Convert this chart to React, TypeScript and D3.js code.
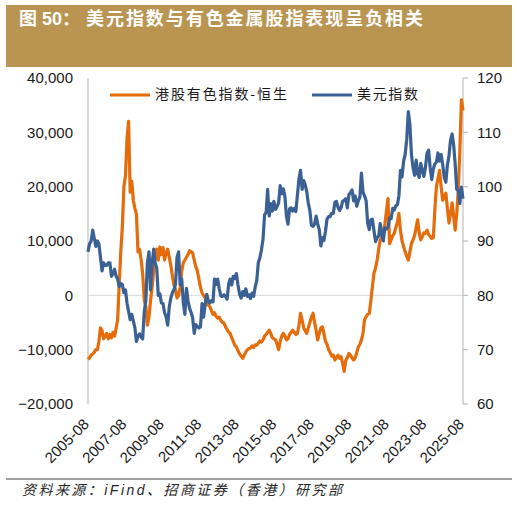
import React from "react";
import * as d3 from "d3";

// 港股有色指数-恒生 (left axis), monthly from 2005-08
const hsMetals = [
  -11800, -11500, -11000, -10800, -10500, -10000, -10000, -8500, -6000, -6500, -8000, -7500,
  -7000, -8000, -7200, -7800, -6800, -7500, -6000, -4500, 2000, 8000, 12600, 20000,
  22000, 29000, 32000, 19000, 21000, 17500, 16000, 15000, 8000, 8500, 6500, 4000,
  -900, -2000, -5500, -4000, -1000, 1600, 4500, 7800, 8500, 6500, 8900, 7500,
  8800, 6500, 7800, 8500, 7000, 5500, 3500, 2000, 1000, -500, 0, 1500,
  4500, 6000, 6500, 7000, 7500, 8200, 8000, 7800, 6500, 5300, 4500, 3000,
  1500, 400, 0, -500, -1500, -1800, -2100, -2800, -3500, -3200, -3900, -4200,
  -4000, -4600, -5000, -5100, -5800, -6300, -6800, -7000, -7800, -8500, -9200, -9500,
  -10200, -10800, -11200, -11600, -11000, -10400, -10000, -9800, -9700, -9300, -9600, -9100,
  -9200, -8800, -8400, -8600, -8200, -7500, -7200, -6800, -6400, -7000, -7800, -8000,
  -8200, -9000, -10000, -8500, -7500, -7000, -7500, -8200, -8000, -7200, -6800, -6400,
  -6800, -7200, -7000, -5500, -3300, -4500, -6000, -6500, -7000, -6000, -5000, -4000,
  -3300, -5000, -6500, -8200, -7000, -6000, -5800, -7000, -8500, -9000, -10000, -10500,
  -11200, -11000, -11900, -11500, -11000, -11600, -11300, -12500, -14000, -12000, -11500, -10700,
  -11000, -11500, -11900, -11500, -10500, -9500, -9000, -8200, -7000, -4500, -3900, -3500,
  -3300, -1000, 1600, 4100, 5000, 6500, 8500, 10200, 10500, 12000, 13000, 15500,
  17800, 9500, 10200, 11000, 11400, 12500, 13500, 15100, 12000, 10000, 9000, 8000,
  7200, 6500, 8000, 9500, 10200, 11000, 12500, 13900, 11500, 10200, 10800, 11500,
  11400, 12000, 11200, 10800, 10500, 10600, 16000, 20000, 21500, 23000, 20000, 17500,
  18000, 18800, 16000, 13300, 15000, 17000, 14500, 12000, 15000, 19400, 26800, 36000,
  34000,
];

// 美元指数 (right axis), monthly from 2005-08
const usdIndex = [
  88, 89.5, 90, 92, 90.5, 89, 90, 89.5, 87, 84.5, 86, 85.5,
  85.5, 86, 86, 83.5, 84, 84.8, 83.5, 83, 81.6, 82.2, 82, 80.5,
  81, 78.5, 77, 75.5, 76.5, 75.3, 74, 71.5, 72.5, 72.9, 72.3, 72,
  77, 79, 86, 88, 81, 86, 88.5, 86, 85, 80, 80.3, 78.6,
  78.5, 76.8, 76, 74.5, 77.9, 79.5, 80.5, 81, 82, 87, 88, 82,
  83, 78.6, 76.5, 81.3, 79, 77.6, 76.8, 75.9, 73, 74.6, 74.3, 74,
  74.2, 78.5, 76, 78.3, 80.2, 79, 78.6, 79, 78.8, 83, 82, 83,
  81.2, 79.9, 79.8, 80.1, 79.8, 79.3, 82.2, 83, 81.9, 83.5, 83.1, 84,
  81.9, 80.2, 79.5, 80.7, 80, 81.2, 79.8, 80.1, 79.4, 80.4, 79.8, 81.5,
  82.7, 86, 86.9, 88.4, 90.3, 94.8, 95.3, 99.5, 94.6, 96.9, 95.5, 97.3,
  95.8, 96.3, 97, 100.2, 98.7, 99.6, 98.2, 94.6, 93.1, 95.9, 96.1, 95.5,
  96, 95.4, 98.4, 101.5, 103, 99.5, 101.1, 100.4, 99.1, 97, 95.6, 92.9,
  92.7, 93.1, 94.6, 93.1, 92.1, 89.1, 90.6, 90.1, 91.8, 94, 94.5, 94.5,
  95.1, 95.1, 97.1, 97.3, 96.2, 95.6, 96.2, 97.3, 97.5, 97.8, 96.1, 98.5,
  98.9, 99.4, 97.4, 98.3, 96.4, 97.4, 98.1, 102.5, 99, 98.3, 97.4, 93.3,
  92.1, 93.9, 94, 91.9, 89.9, 90.6, 90.9, 93.2, 91.3, 90, 92.4, 92.2,
  92.6, 94.2, 94.1, 96, 95.7, 96.5, 96.7, 98.3, 103, 101.8, 104.7, 105.9,
  108.7, 113.8, 111.5, 105.9, 103.5, 102.1, 104.9, 102.5, 101.7, 104.3, 102.9, 101.9,
  103.6, 106.2, 106.7, 103.5, 101.3, 103.3, 104.2, 104.5, 106.2, 104.7, 105.9, 104.1,
  101.7, 100.8, 104, 105.7, 108.5, 109.7, 107.6, 104.2, 99.5, 99.3, 96.9, 99.9,
  97.8,
];

const xTickLabels = [
  "2005-08", "2007-08", "2009-08", "2011-08", "2013-08", "2015-08",
  "2017-08", "2019-08", "2021-08", "2023-08", "2025-08",
];
const leftTicks = [-20000, -10000, 0, 10000, 20000, 30000, 40000];
const rightTicks = [60, 70, 80, 90, 100, 110, 120];
const seriesNames = ["港股有色指数-恒生", "美元指数"];

const ORANGE = "#E46C0A";
const BLUE = "#3A6094";
const START = new Date(2005, 7, 1);
const parseMonth = d3.timeParse("%Y-%m");

export default function App() {
  const W = 517;
  const H = 505;
  const plot = { left: 88, right: 463, top: 78, bottom: 404 };

  const x = d3
    .scaleTime()
    .domain([START, new Date(2025, 7, 1)])
    .range([plot.left, plot.right]);
  const yL = d3.scaleLinear().domain([-20000, 40000]).range([plot.bottom, plot.top]);
  const yR = d3.scaleLinear().domain([60, 120]).range([plot.bottom, plot.top]);

  const dateAt = (i: number) => d3.timeMonth.offset(START, i);
  const lineL = d3
    .line<number>()
    .x((_, i) => x(dateAt(i)))
    .y((d) => yL(d));
  const lineR = d3
    .line<number>()
    .x((_, i) => x(dateAt(i)))
    .y((d) => yR(d));

  const fmt = d3.format(",");
  const latin = "'Liberation Sans', Arial, sans-serif";
  const cjk = "'Noto Sans CJK SC', sans-serif";

  return (
    <svg
      width={W}
      height={H}
      style={{ position: "absolute", left: 0, top: 0, display: "block", background: "#fff" }}
    >
      {/* title band */}
      <rect x={6} y={5} width={506} height={62} fill="#BA9552" />
      <text x={19} y={25} fill="#fff" fontSize={18} fontWeight="bold" fontFamily={`'Liberation Sans', ${cjk}`}>
        <tspan fontFamily={cjk}>图</tspan>
        <tspan> 50</tspan>
        <tspan fontFamily={cjk}>：</tspan>
      </text>
      <text
        x={86}
        y={25}
        fill="#fff"
        fontSize={18}
        fontWeight="bold"
        fontFamily={cjk}
        textLength={337}
        lengthAdjust="spacing"
      >
        美元指数与有色金属股指表现呈负相关
      </text>

      {/* zero gridline */}
      <line x1={plot.left} x2={plot.right} y1={yL(0)} y2={yL(0)} stroke="#D9D9D9" strokeWidth={1} />

      {/* left axis */}
      <line x1={plot.left} x2={plot.left} y1={plot.top} y2={plot.bottom} stroke="#BFBFBF" strokeWidth={1.2} />
      {leftTicks.map((t) => (
        <text
          key={t}
          x={73}
          y={yL(t)}
          dy="0.36em"
          textAnchor="end"
          fontSize={15}
          fontFamily={latin}
          fill="#1a1a1a"
        >
          {fmt(t)}
        </text>
      ))}

      {/* right axis */}
      <line x1={plot.right} x2={plot.right} y1={plot.top} y2={plot.bottom} stroke="#BFBFBF" strokeWidth={1.2} />
      {rightTicks.map((t) => (
        <g key={t}>
          <line x1={plot.right} x2={plot.right + 5} y1={yR(t)} y2={yR(t)} stroke="#BFBFBF" strokeWidth={1.2} />
          <text x={477} y={yR(t)} dy="0.36em" fontSize={15} fontFamily={latin} fill="#1a1a1a">
            {t}
          </text>
        </g>
      ))}

      {/* x labels */}
      {xTickLabels.map((s) => {
        const px = x(parseMonth(s) as Date);
        return (
          <text
            key={s}
            transform={`translate(${px + 2},${425}) rotate(-45)`}
            textAnchor="end"
            fontSize={15}
            fontFamily={latin}
            fill="#1a1a1a"
          >
            {s}
          </text>
        );
      })}

      {/* series: dollar index sits on top, as in the source */}
      <path d={lineL(hsMetals) ?? ""} fill="none" stroke={ORANGE} strokeWidth={3.2} strokeLinejoin="round" />
      <path d={lineR(usdIndex) ?? ""} fill="none" stroke={BLUE} strokeWidth={3.2} strokeLinejoin="round" />

      {/* legend */}
      <line x1={110} x2={150} y1={95} y2={95} stroke={ORANGE} strokeWidth={3} />
      <text x={155} y={99} fontSize={14} fontFamily={cjk} fill="#1a1a1a" textLength={132} lengthAdjust="spacing">
        {seriesNames[0]}
      </text>
      <line x1={312} x2={352} y1={95} y2={95} stroke={BLUE} strokeWidth={3} />
      <text x={357} y={99} fontSize={14} fontFamily={cjk} fill="#1a1a1a" textLength={61} lengthAdjust="spacing">
        {seriesNames[1]}
      </text>

      {/* footer */}
      <line x1={6} x2={512} y1={479} y2={479} stroke="#404040" strokeWidth={1} />
      <text
        x={22}
        y={495}
        fontSize={14}
        fontStyle="italic"
        fontFamily={`'Liberation Sans', ${cjk}`}
        fill="#262626"
        textLength={320}
        lengthAdjust="spacing"
      >
        资料来源：iFind、招商证券（香港）研究部
      </text>
    </svg>
  );
}
